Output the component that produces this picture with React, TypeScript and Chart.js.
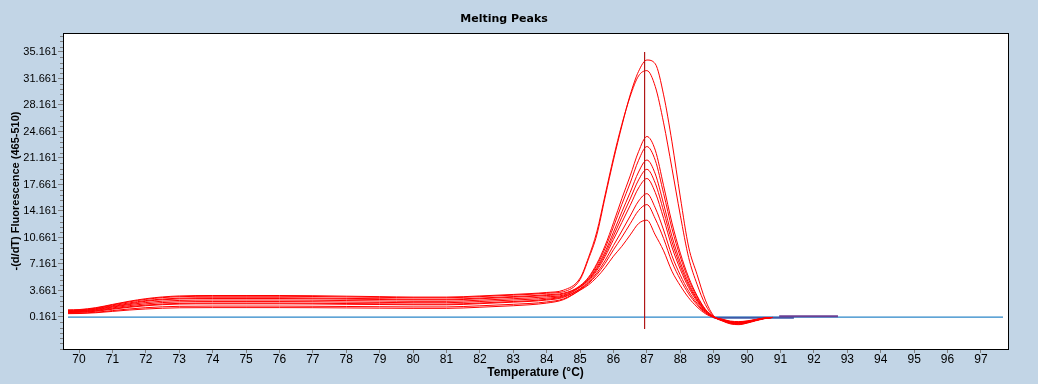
import React, { useEffect, useRef } from "react";
import { Chart, registerables } from "chart.js";

Chart.register(...registerables);

// Temperatures (°C) at which the melting-peak curves are sampled
const TEMPS = [69.67, 70, 70.5, 71, 71.5, 72, 72.5, 73, 74, 75, 76, 77, 78, 79, 80, 81, 82, 83, 83.5, 84, 84.5, 85, 85.25, 85.5, 85.75, 86, 86.25, 86.5, 86.75, 87, 87.25, 87.5, 87.75, 88, 88.25, 88.5, 88.75, 89, 89.25, 89.5, 89.75, 90, 90.25, 90.5, 90.75];

// -(d/dT) Fluorescence (465-510) for each sample
const SAMPLE_1 = [1.05, 1.09, 1.33, 1.75, 2.16, 2.49, 2.72, 2.84, 2.9, 2.9, 2.9, 2.87, 2.81, 2.76, 2.7, 2.7, 2.85, 3.05, 3.15, 3.3, 3.5, 5.1, 7.8, 11.0, 16.0, 20.9, 25.4, 29.5, 32.6, 34.1, 33.6, 29.5, 23.3, 16.0, 9.4, 5.8, 2.4, 0.3, -0.3, -0.7, -0.8, -0.6, -0.3, -0.05, 0.1];
const SAMPLE_2 = [1.1, 1.14, 1.39, 1.82, 2.24, 2.58, 2.81, 2.94, 3.0, 3.0, 3.0, 2.97, 2.91, 2.85, 2.79, 2.79, 2.94, 3.14, 3.25, 3.4, 3.7, 5.3, 8.0, 11.4, 16.3, 21.2, 25.6, 29.3, 32.0, 32.7, 30.6, 25.8, 19.8, 13.6, 8.0, 4.5, 1.8, 0.2, -0.35, -0.75, -0.85, -0.65, -0.35, -0.08, 0.1];
const SAMPLE_3 = [0.95, 0.98, 1.19, 1.55, 1.9, 2.24, 2.44, 2.55, 2.6, 2.6, 2.6, 2.57, 2.52, 2.47, 2.42, 2.42, 2.57, 2.77, 2.87, 3.0, 3.2, 4.3, 5.4, 7.2, 9.6, 12.6, 15.8, 18.8, 22.0, 24.0, 22.2, 17.5, 12.6, 8.6, 5.4, 3.0, 1.2, 0.2, -0.25, -0.6, -0.7, -0.55, -0.28, -0.04, 0.1];
const SAMPLE_4 = [0.9, 0.93, 1.13, 1.47, 1.8, 2.07, 2.25, 2.35, 2.4, 2.4, 2.4, 2.38, 2.33, 2.28, 2.23, 2.23, 2.38, 2.58, 2.68, 2.83, 3.05, 4.2, 5.28, 6.98, 9.25, 12.07, 15.04, 17.86, 20.85, 22.67, 20.86, 16.47, 11.83, 8.08, 5.08, 2.82, 1.13, 0.19, -0.25, -0.55, -0.65, -0.5, -0.25, -0.03, 0.1];
const SAMPLE_5 = [0.85, 0.88, 1.05, 1.36, 1.66, 1.9, 2.07, 2.16, 2.2, 2.2, 2.2, 2.18, 2.13, 2.09, 2.05, 2.05, 2.2, 2.4, 2.5, 2.65, 2.95, 4.1, 5.12, 6.7, 8.79, 11.37, 14.04, 16.62, 19.31, 20.89, 19.06, 15.09, 10.81, 7.4, 4.64, 2.58, 1.03, 0.17, -0.2, -0.5, -0.6, -0.45, -0.22, -0.02, 0.1];
const SAMPLE_6 = [1.0, 1.03, 1.26, 1.65, 2.02, 2.33, 2.53, 2.65, 2.7, 2.7, 2.7, 2.67, 2.62, 2.57, 2.51, 2.51, 2.66, 2.86, 2.96, 3.1, 3.3, 4.15, 5.05, 6.5, 8.47, 10.88, 13.34, 15.76, 18.26, 19.67, 17.83, 14.15, 10.1, 6.92, 4.35, 2.42, 0.97, 0.16, -0.3, -0.65, -0.75, -0.58, -0.3, -0.05, 0.1];
const SAMPLE_7 = [0.75, 0.77, 0.92, 1.19, 1.44, 1.65, 1.79, 1.87, 1.9, 1.9, 1.9, 1.88, 1.84, 1.81, 1.77, 1.77, 1.92, 2.12, 2.22, 2.4, 2.75, 3.9, 4.9, 6.3, 8.15, 10.4, 12.65, 14.9, 17.2, 18.45, 16.6, 13.2, 9.4, 6.45, 4.05, 2.25, 0.9, 0.15, -0.15, -0.45, -0.5, -0.4, -0.2, 0.0, 0.1];
const SAMPLE_8 = [0.8, 0.82, 0.98, 1.26, 1.52, 1.74, 1.88, 1.96, 2.0, 2.0, 2.0, 1.98, 1.94, 1.9, 1.86, 1.86, 2.01, 2.21, 2.31, 2.5, 2.85, 3.85, 4.72, 5.98, 7.63, 9.61, 11.52, 13.5, 15.47, 16.45, 14.58, 11.65, 8.25, 5.68, 3.56, 1.98, 0.79, 0.13, -0.28, -0.6, -0.7, -0.52, -0.27, -0.04, 0.1];
const SAMPLE_9 = [0.65, 0.67, 0.79, 1.01, 1.22, 1.39, 1.51, 1.57, 1.6, 1.6, 1.6, 1.58, 1.55, 1.52, 1.49, 1.49, 1.64, 1.84, 1.95, 2.15, 2.55, 3.75, 4.59, 5.74, 7.25, 9.04, 10.7, 12.48, 14.22, 15.01, 13.13, 10.53, 7.42, 5.12, 3.21, 1.79, 0.71, 0.12, -0.18, -0.48, -0.55, -0.42, -0.2, 0.0, 0.1];
const SAMPLE_10 = [0.6, 0.62, 0.72, 0.9, 1.08, 1.22, 1.32, 1.38, 1.4, 1.4, 1.4, 1.39, 1.36, 1.33, 1.3, 1.3, 1.45, 1.65, 1.78, 2.0, 2.45, 3.7, 4.4, 5.4, 6.7, 8.2, 9.5, 11.0, 12.5, 12.95, 11.0, 8.9, 6.2, 4.3, 2.7, 1.5, 0.6, 0.1, -0.12, -0.38, -0.45, -0.35, -0.17, 0.02, 0.1];
const SAMPLES = [SAMPLE_1, SAMPLE_2, SAMPLE_3, SAMPLE_4, SAMPLE_5, SAMPLE_6, SAMPLE_7, SAMPLE_8, SAMPLE_9, SAMPLE_10];

// Other traces
const BASELINE_X = [69.67, 97.66];
const BASELINE_Y = [0.14, 0.14];
const BLUE_X = [89.0, 91.4];
const BLUE_Y = [0.06, 0.06];
const PURPLE_X = [90.96, 92.72];
const PURPLE_Y = [0.25, 0.25];
const MARKER_X = [86.93, 86.93];
const MARKER_Y = [35.16, -1.42];

// Axes
const X_MIN = 69.52;
const X_MAX = 97.81;
const X_TICKS = [70, 71, 72, 73, 74, 75, 76, 77, 78, 79, 80, 81, 82, 83, 84, 85, 86, 87, 88, 89, 90, 91, 92, 93, 94, 95, 96, 97];
const Y_MIN = -4.066;
const Y_MAX = 37.67;
const Y_TICKS = [0.161, 3.661, 7.161, 10.661, 14.161, 17.661, 21.161, 24.661, 28.161, 31.661, 35.161];
const Y_MINOR_STEP = 0.7;

const BG = "#C2D5E6";
const X_TICK_FONT = { family: "'Liberation Sans', Arial, sans-serif", size: 12 };
const Y_TICK_FONT = { family: "'Liberation Sans', Arial, sans-serif", size: 11 };

const pts = (xs: number[], ys: number[]) => xs.map((x, i) => ({ x, y: ys[i] }));

const framePlugin = {
  id: "frame",
  beforeDraw(chart: any) {
    const { ctx, chartArea: a } = chart;
    ctx.save();
    ctx.fillStyle = BG;
    ctx.fillRect(0, 0, chart.width, chart.height);
    ctx.fillStyle = "#FFFFFF";
    ctx.fillRect(a.left, a.top, a.right - a.left, a.bottom - a.top);
    ctx.restore();
  },
  afterDraw(chart: any) {
    const { ctx, chartArea: a, scales } = chart;
    const ys = scales.y;
    ctx.save();
    // minor y ticks
    ctx.strokeStyle = "#808080";
    ctx.lineWidth = 1;
    ctx.beginPath();
    const base = Y_TICKS[0];
    for (let k = -20; k <= 60; k++) {
      const v = base + k * Y_MINOR_STEP;
      if (v < Y_MIN || v > Y_MAX) continue;
      if (k % 5 === 0 && k >= 0 && k / 5 < Y_TICKS.length) continue;
      const py = Math.round(ys.getPixelForValue(v)) + 0.5;
      ctx.moveTo(a.left - 3, py);
      ctx.lineTo(a.left, py);
    }
    ctx.stroke();
    // plot frame
    ctx.strokeStyle = "#000000";
    ctx.lineWidth = 1;
    const l = Math.round(a.left) + 0.5;
    const t = Math.round(a.top) + 0.5;
    const r = Math.round(a.right) + 0.5;
    const b = Math.round(a.bottom) + 0.5;
    ctx.strokeRect(l, t, r - l, b - t);
    ctx.restore();
  },
};

export default function App() {
  const ref = useRef<HTMLCanvasElement>(null);

  useEffect(() => {
    if (!ref.current) return;
    const sampleSets = SAMPLES.map((ys, i) => ({
      label: `Sample ${i + 1}`,
      data: pts(TEMPS, ys),
      borderColor: "#FF0000",
      borderWidth: 1,
      pointRadius: 0,
      cubicInterpolationMode: "monotone" as const,
    }));
    const chart = new Chart(ref.current, {
      type: "line",
      data: {
        datasets: [
          { label: "Tm", data: pts(MARKER_X, MARKER_Y), borderColor: "#B01818", borderWidth: 1, pointRadius: 0 },
          ...sampleSets,
          { label: "Control A", data: pts(PURPLE_X, PURPLE_Y), borderColor: "#6B3F94", borderWidth: 2, pointRadius: 0 },
          { label: "Control B", data: pts(BLUE_X, BLUE_Y), borderColor: "#3C5AA8", borderWidth: 2, pointRadius: 0 },
          { label: "Baseline", data: pts(BASELINE_X, BASELINE_Y), borderColor: "#2A86C8", borderWidth: 1.4, pointRadius: 0 },
        ],
      },
      options: {
        responsive: false,
        devicePixelRatio: 1,
        animation: false,
        events: [],
        layout: { padding: { left: 0, right: 30, top: 0, bottom: 0 } },
        plugins: {
          legend: { display: false },
          tooltip: { enabled: false },
          title: {
            display: true,
            text: "Melting Peaks",
            color: "#000000",
            font: { family: "'DejaVu Sans', sans-serif", size: 11, weight: "bold", lineHeight: "13px" },
            padding: { top: 13, bottom: 7 },
          },
        },
        scales: {
          x: {
            type: "linear",
            min: X_MIN,
            max: X_MAX,
            afterBuildTicks: (s: any) => {
              s.ticks = X_TICKS.map((v) => ({ value: v }));
            },
            afterFit: (s: any) => {
              s.height = 35;
            },
            ticks: {
              color: "#000000",
              font: X_TICK_FONT,
              padding: -1,
              maxRotation: 0,
              autoSkip: false,
              callback: (v: any) => String(v),
            },
            grid: { drawOnChartArea: false, drawTicks: true, tickLength: 4, color: "#808080" },
            border: { display: false },
            title: {
              display: true,
              text: "Temperature (°C)",
              color: "#000000",
              font: { family: "'Liberation Sans', Arial, sans-serif", size: 12, weight: "bold" },
              padding: { top: 0, bottom: 4 },
            },
          },
          y: {
            type: "linear",
            min: Y_MIN,
            max: Y_MAX,
            afterBuildTicks: (s: any) => {
              s.ticks = Y_TICKS.map((v) => ({ value: v }));
            },
            afterFit: (s: any) => {
              s.width = 63;
            },
            ticks: {
              color: "#000000",
              font: Y_TICK_FONT,
              padding: 1,
              autoSkip: false,
              callback: (v: any) => Number(v).toFixed(3),
            },
            grid: { drawOnChartArea: false, drawTicks: true, tickLength: 5, color: "#808080" },
            border: { display: false },
            title: {
              display: true,
              text: "-(d/dT) Fluorescence (465-510)",
              color: "#000000",
              font: { family: "'Liberation Sans', Arial, sans-serif", size: 11, weight: "bold" },
              padding: { top: 9, bottom: 0 },
            },
          },
        },
      },
      plugins: [framePlugin],
    });
    return () => chart.destroy();
  }, []);

  return (
    <div style={{ position: "fixed", left: 0, top: 0, width: 1038, height: 384, background: BG }}>
      <canvas ref={ref} width={1038} height={384} style={{ display: "block", width: 1038, height: 384 }} />
    </div>
  );
}
